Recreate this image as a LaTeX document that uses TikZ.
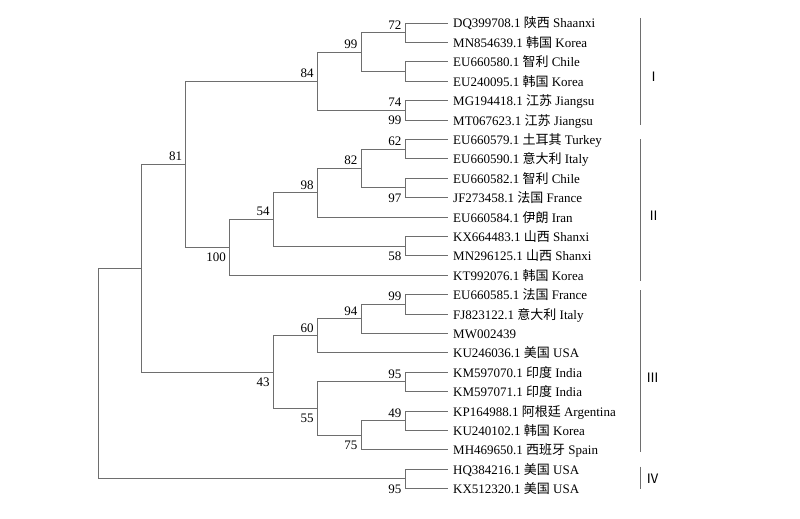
\documentclass[tikz,border=0pt]{standalone}
\usepackage{fontspec}
\setmainfont{Liberation Serif}
\newfontfamily\cjk{Noto Sans CJK SC}
\definecolor{linegray}{RGB}{110,110,110}
\tikzset{
  br/.style={draw=linegray, line width=0.9pt},
  leaftxt/.style={anchor=base west, inner sep=0pt, font=\fontsize{13}{15}\selectfont},
  bsup/.style={anchor=base east, inner sep=0pt, font=\fontsize{13}{15}\selectfont},
  grp/.style={anchor=west, inner sep=0pt, font=\fontsize{13}{15}\selectfont\cjk},
}
\newcommand{\lbup}[3]{\node[bsup] (#1) at ([xshift=-3.5pt,yshift=3.6pt]#2) {#3};}
\newcommand{\lbdn}[3]{\node[bsup] (#1) at ([xshift=-3.5pt,yshift=-14.4pt]#2) {#3};}
\newcommand{\leaf}[3]{\coordinate (t#1) at (447.5,#2);
  \node[leaftxt] (l#1) at ([xshift=5.5pt,yshift=-5pt]t#1) {#3};}
\begin{document}
\begin{tikzpicture}[x=1pt,y=-1pt]
\useasboundingbox (0,0) rectangle (800,519);
% leaves
\leaf{1}{23.0}{DQ399708.1 {\cjk 陕西} Shaanxi}
\leaf{2}{42.4}{MN854639.1 {\cjk 韩国} Korea}
\leaf{3}{61.8}{EU660580.1 {\cjk 智利} Chile}
\leaf{4}{81.2}{EU240095.1 {\cjk 韩国} Korea}
\leaf{5}{100.6}{MG194418.1 {\cjk 江苏} Jiangsu}
\leaf{6}{120.0}{MT067623.1 {\cjk 江苏} Jiangsu}
\leaf{7}{139.4}{EU660579.1 {\cjk 土耳其} Turkey}
\leaf{8}{158.8}{EU660590.1 {\cjk 意大利} Italy}
\leaf{9}{178.2}{EU660582.1 {\cjk 智利} Chile}
\leaf{10}{197.6}{JF273458.1 {\cjk 法国} France}
\leaf{11}{217.0}{EU660584.1 {\cjk 伊朗} Iran}
\leaf{12}{236.4}{KX664483.1 {\cjk 山西} Shanxi}
\leaf{13}{255.8}{MN296125.1 {\cjk 山西} Shanxi}
\leaf{14}{275.2}{KT992076.1 {\cjk 韩国} Korea}
\leaf{15}{294.6}{EU660585.1 {\cjk 法国} France}
\leaf{16}{314.0}{FJ823122.1 {\cjk 意大利} Italy}
\leaf{17}{333.4}{MW002439}
\leaf{18}{352.8}{KU246036.1 {\cjk 美国} USA}
\leaf{19}{372.2}{KM597070.1 {\cjk 印度} India}
\leaf{20}{391.6}{KM597071.1 {\cjk 印度} India}
\leaf{21}{411.0}{KP164988.1 {\cjk 阿根廷} Argentina}
\leaf{22}{430.4}{KU240102.1 {\cjk 韩国} Korea}
\leaf{23}{449.8}{MH469650.1 {\cjk 西班牙} Spain}
\leaf{24}{469.2}{HQ384216.1 {\cjk 美国} USA}
\leaf{25}{488.6}{KX512320.1 {\cjk 美国} USA}
% internal nodes
\coordinate (n72) at (405,32.7);
\coordinate (nEU) at (405,71.5);
\coordinate (nMG) at (405,110.3);
\coordinate (n99a) at (361.1,52.1);
\coordinate (n84) at (317.3,81.2);
\coordinate (n62) at (405,149.1);
\coordinate (n97) at (405,187.9);
\coordinate (n82) at (361.1,168.5);
\coordinate (n98) at (317.3,192.75);
\coordinate (n58) at (405,246.1);
\coordinate (n54) at (273.4,219.43);
\coordinate (n100) at (229.6,247.31);
\coordinate (n81) at (185.7,164.26);
\coordinate (n99c) at (405,304.3);
\coordinate (n94) at (361.1,318.85);
\coordinate (n60) at (317.3,335.83);
\coordinate (n95) at (405,381.9);
\coordinate (n49) at (405,420.7);
\coordinate (n75) at (361.1,435.25);
\coordinate (n55) at (317.3,408.58);
\coordinate (n43) at (273.4,372.2);
\coordinate (nA) at (141.9,268.23);
\coordinate (nIV) at (405,478.9);
\coordinate (root) at (98,373.57);
% branches
\draw[br] (n72) |- (t1); \draw[br] (n72) |- (t2);
\draw[br] (nEU) |- (t3); \draw[br] (nEU) |- (t4);
\draw[br] (nMG) |- (t5); \draw[br] (nMG) |- (t6);
\draw[br] (n99a) |- (n72); \draw[br] (n99a) |- (nEU);
\draw[br] (n84) |- (n99a); \draw[br] (n84) |- (nMG);
\draw[br] (n62) |- (t7); \draw[br] (n62) |- (t8);
\draw[br] (n97) |- (t9); \draw[br] (n97) |- (t10);
\draw[br] (n82) |- (n62); \draw[br] (n82) |- (n97);
\draw[br] (n98) |- (n82); \draw[br] (n98) |- (t11);
\draw[br] (n58) |- (t12); \draw[br] (n58) |- (t13);
\draw[br] (n54) |- (n98); \draw[br] (n54) |- (n58);
\draw[br] (n100) |- (n54); \draw[br] (n100) |- (t14);
\draw[br] (n81) |- (n84); \draw[br] (n81) |- (n100);
\draw[br] (n99c) |- (t15); \draw[br] (n99c) |- (t16);
\draw[br] (n94) |- (n99c); \draw[br] (n94) |- (t17);
\draw[br] (n60) |- (n94); \draw[br] (n60) |- (t18);
\draw[br] (n95) |- (t19); \draw[br] (n95) |- (t20);
\draw[br] (n49) |- (t21); \draw[br] (n49) |- (t22);
\draw[br] (n75) |- (n49); \draw[br] (n75) |- (t23);
\draw[br] (n55) |- (n95); \draw[br] (n55) |- (n75);
\draw[br] (n43) |- (n60); \draw[br] (n43) |- (n55);
\draw[br] (nA) |- (n81); \draw[br] (nA) |- (n43);
\draw[br] (nIV) |- (t24); \draw[br] (nIV) |- (t25);
\draw[br] (root) |- (nA); \draw[br] (root) |- (nIV);
% bootstrap values
\lbup{b72}{n72}{72}
\lbup{b99a}{n99a}{99}
\lbup{b84}{n84}{84}
\lbup{b74}{nMG}{74}
\lbdn{b99m}{nMG}{99}
\lbup{b62}{n62}{62}
\lbup{b82}{n82}{82}
\lbup{b98}{n98}{98}
\lbup{b54}{n54}{54}
\lbup{b81}{n81}{81}
\lbdn{b97}{n97}{97}
\lbdn{b58}{n58}{58}
\lbdn{b100}{n100}{100}
\lbup{b99c}{n99c}{99}
\lbup{b94}{n94}{94}
\lbup{b60}{n60}{60}
\lbdn{b43}{n43}{43}
\lbup{b95}{n95}{95}
\lbdn{b55}{n55}{55}
\lbup{b49}{n49}{49}
\lbdn{b75}{n75}{75}
\lbdn{b95iv}{nIV}{95}
% group bars
\coordinate (g1a) at (640,18); \coordinate (g1b) at (640,125);
\coordinate (g2a) at (640,139); \coordinate (g2b) at (640,281);
\coordinate (g3a) at (640,290); \coordinate (g3b) at (640,452);
\coordinate (g4a) at (640,466.5); \coordinate (g4b) at (640,488.5);
\draw[br] (g1a) -- (g1b);
\draw[br] (g2a) -- (g2b);
\draw[br] (g3a) -- (g3b);
\draw[br] (g4a) -- (g4b);
\node[grp] (gI) at (647,77) {Ⅰ};
\node[grp] (gII) at (647,216) {Ⅱ};
\node[grp] (gIII) at (646,378) {Ⅲ};
\node[grp] (gIV) at (646,479) {Ⅳ};
\end{tikzpicture}
\end{document}
